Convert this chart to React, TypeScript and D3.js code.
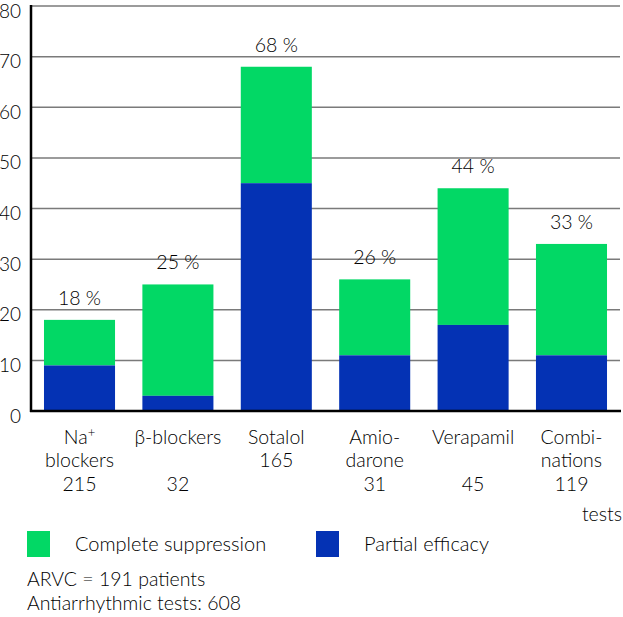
import React from "react";
import * as d3 from "d3";

const categories = ["Na+ blockers", "β-blockers", "Sotalol", "Amiodarone", "Verapamil", "Combinations"];
const labelLines: string[][] = [
  ["Na+", "blockers", "215"],
  ["β-blockers", "", "32"],
  ["Sotalol", "165", ""],
  ["Amio-", "darone", "31"],
  ["Verapamil", "", "45"],
  ["Combi-", "nations", "119"],
];
const totalValues = [18, 25, 68, 26, 44, 33];
const partialValues = [9, 3, 45, 11, 17, 11];
const percentLabels = ["18 %", "25 %", "68 %", "26 %", "44 %", "33 %"];
const yTicks = [0, 10, 20, 30, 40, 50, 60, 70, 80];
const legendItems = ["Complete suppression", "Partial efficacy"];
const legendColors = ["#02d865", "#0432b4"];
const notes = ["ARVC = 191 patients", "Antiarrhythmic tests: 608"];

const GREEN = "#02d865";
const BLUE = "#0432b4";
const FONT = "Lato, sans-serif";

export default function App() {
  const W = 623;
  const H = 617;
  const x = d3.scaleBand<string>().domain(categories).range([31, 620]).paddingInner(0.278).paddingOuter(0.132);
  const y = d3.scaleLinear().domain([0, 80]).range([411, 6]);
  const fs = 19.5;
  const legendX = [27, 316];

  return (
    <svg width={W} height={H} style={{ position: "absolute", left: 0, top: 0, background: "#fff" }} fontFamily={FONT} fontWeight={300}>
      <rect width={W} height={H} fill="#fff" />
      {yTicks.map((t) => (
        <g key={t}>
          {t > 0 && <line x1={31} x2={620} y1={y(t)} y2={y(t)} stroke="#7a7a7a" strokeWidth={1.5} />}
          <text x={21} y={y(t) + 4} textAnchor="end" dominantBaseline="central" fontSize={19} fill="#000">
            {t}
          </text>
        </g>
      ))}
      {categories.map((c, i) => {
        const bx = x(c)!;
        const bw = x.bandwidth();
        return (
          <g key={c}>
            <rect x={bx} y={y(totalValues[i])} width={bw} height={y(partialValues[i]) - y(totalValues[i])} fill={GREEN} />
            <rect x={bx} y={y(partialValues[i])} width={bw} height={y(0) - y(partialValues[i])} fill={BLUE} />
            <text x={bx + bw / 2} y={y(totalValues[i]) - 15} textAnchor="middle" fontSize={fs} fill="#000">
              {percentLabels[i]}
            </text>
            {labelLines[i].map((ln, j) =>
              ln === "" ? null : (
                <text key={j} x={bx + bw / 2} y={444 + j * 23.3} textAnchor="middle" fontSize={fs} fill="#000">
                  {ln === "Na+" ? (
                    <>
                      Na<tspan fontSize={13} dy={-7}>+</tspan>
                    </>
                  ) : (
                    ln
                  )}
                </text>
              )
            )}
          </g>
        );
      })}
      <line x1={31} x2={31} y1={5} y2={412} stroke="#000" strokeWidth={2.5} />
      <line x1={30} x2={621} y1={411} y2={411} stroke="#000" strokeWidth={2.5} />
      <text x={622} y={521} textAnchor="end" fontSize={fs} fill="#000">tests</text>
      {legendItems.map((l, i) => (
        <g key={l}>
          <rect x={legendX[i]} y={531} width={23} height={26} fill={legendColors[i]} />
          <text x={legendX[i] + 48} y={551} fontSize={20} fill="#000">{l}</text>
        </g>
      ))}
      {notes.map((n, i) => (
        <text key={n} x={27} y={586 + i * 24} fontSize={19.5} fill="#000">{n}</text>
      ))}
    </svg>
  );
}
